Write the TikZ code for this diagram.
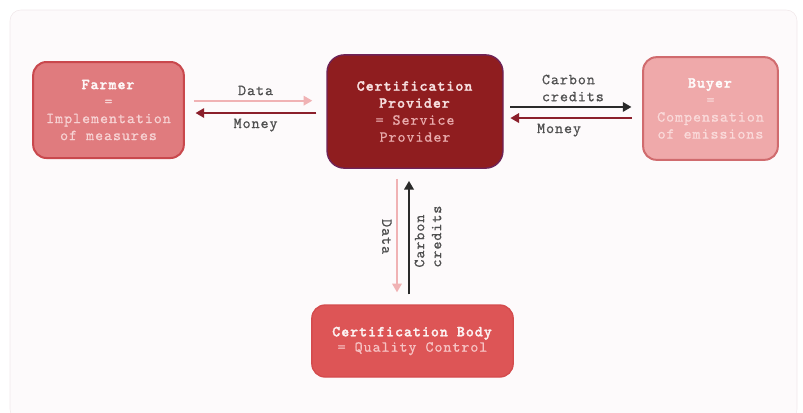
\documentclass[tikz,border=0pt]{standalone}
\usepackage{fontspec}
\setmonofont{lmmono10-regular}[Extension=.otf, BoldFont=lmmonolt10-bold,
  LetterSpace=6, FakeBold=0.7, BoldFeatures={FakeBold=1.6}]
\usepackage{tikz}
\usetikzlibrary{positioning,arrows.meta,calc}

\definecolor{panelbg}{HTML}{FDFAFB}
\definecolor{panelline}{HTML}{F1E8EA}
\definecolor{farmerfill}{HTML}{E07B7E}
\definecolor{farmerline}{HTML}{C9484D}
\definecolor{farmersub}{HTML}{F7D2D3}
\definecolor{provfill}{HTML}{8F1D1F}
\definecolor{provline}{HTML}{6E2358}
\definecolor{provtitle}{HTML}{F6DEDE}
\definecolor{provsub}{HTML}{E8AAAB}
\definecolor{buyerfill}{HTML}{EFA9AA}
\definecolor{buyerline}{HTML}{D06B6E}
\definecolor{buyersub}{HTML}{FADADA}
\definecolor{bodyfill}{HTML}{DD5556}
\definecolor{bodyline}{HTML}{D44B4D}
\definecolor{bodysub}{HTML}{F6C2C3}
\definecolor{datapink}{HTML}{F0B2B4}
\definecolor{moneyred}{HTML}{8B1F2B}
\definecolor{creditblk}{HTML}{2A2A2A}
\definecolor{labelgray}{HTML}{4F4F4F}

\begin{document}
\begin{tikzpicture}[x=0.75pt, y=-0.75pt,
  every node/.style={font=\ttfamily\fontsize{11.5}{12.75}\selectfont},
  box/.style  ={draw=#1line, fill=#1fill, rounded corners=10pt,
                line width=1.5pt, align=center, inner sep=4pt},
  lbl/.style  ={text=labelgray, align=left},
  arr/.style  ={-{Triangle[length=6.5pt, width=7pt]}, line width=1.8pt}]

%% Panel behind everything
\useasboundingbox (0,0) rectangle (803,412);
\filldraw[fill=panelbg, draw=panelline, rounded corners=8pt] (10,10) rectangle (797,420);

%% The four parties
\node[box=farmer, text=white!94!farmerfill,
      minimum width=113pt, minimum height=72pt] (farmer) at (108.5,110)
      {\textbf{Farmer}\\\textcolor{farmersub}{=}\\\textcolor{farmersub}{Implementation}\\\textcolor{farmersub}{of measures}};
\node[box=prov, line width=1pt, rounded corners=13pt, text=provtitle,
      minimum width=132pt, minimum height=85pt] (provider) at (415,111.5)
      {\textbf{Certification}\\\textbf{Provider}\\\textcolor{provsub}{= Service}\\\textcolor{provsub}{Provider}};
\node[box=buyer, text=white!96!buyerfill,
      minimum width=101pt, minimum height=77pt] (buyer) at (710.5,108.5)
      {\textbf{Buyer}\\\textcolor{buyersub}{=}\\\textcolor{buyersub}{Compensation}\\\textcolor{buyersub}{of emissions}};
\node[box=body, line width=1pt, font=\ttfamily\fontsize{11.5}{11.5}\selectfont,
      text=white!92!bodyfill,
      minimum width=151pt, minimum height=54pt] (body) at (412.5,341)
      {\textbf{Certification Body}\\\textcolor{bodysub}{= Quality Control}};

%% Farmer <-> Certification Provider
\draw[arr, datapink, line width=1.5pt, shorten <=6.75pt, shorten >=10.5pt]
    ([yshift=7pt]farmer.east) -- node[lbl, above]{Data}
    ([yshift=7pt]farmer.east -| provider.west);
\draw[arr, moneyred, shorten <=7.5pt, shorten >=8pt]
    ([yshift=-2.25pt]farmer.east -| provider.west) -- node[lbl, below]{Money}
    ([yshift=-2.25pt]farmer.east);

%% Certification Provider <-> Buyer
\draw[arr, creditblk, shorten <=5pt, shorten >=8pt]
    ([yshift=3.4pt]provider.east) -- node[lbl, above]{Carbon\\credits}
    ([yshift=3.4pt]provider.east -| buyer.west);
\draw[arr, moneyred, shorten <=8pt, shorten >=5pt]
    ([yshift=-4.9pt]provider.east -| buyer.west) -- node[lbl, below, pos=0.6]{Money}
    ([yshift=-4.9pt]provider.east);

%% Certification Provider <-> Certification Body
\draw[arr, datapink, line width=1.5pt, shorten <=7.5pt, shorten >=9pt]
    ([xshift=-13.5pt]provider.south) -- node[lbl, rotate=-90, anchor=north]{Data}
    ([xshift=-13.5pt]provider.south |- body.north);
\draw[arr, creditblk, shorten <=7.5pt, shorten >=9pt]
    ([xshift=-4.5pt]provider.south |- body.north) -- node[lbl, rotate=90, anchor=north]{Carbon\\credits}
    ([xshift=-4.5pt]provider.south);
\end{tikzpicture}
\end{document}
